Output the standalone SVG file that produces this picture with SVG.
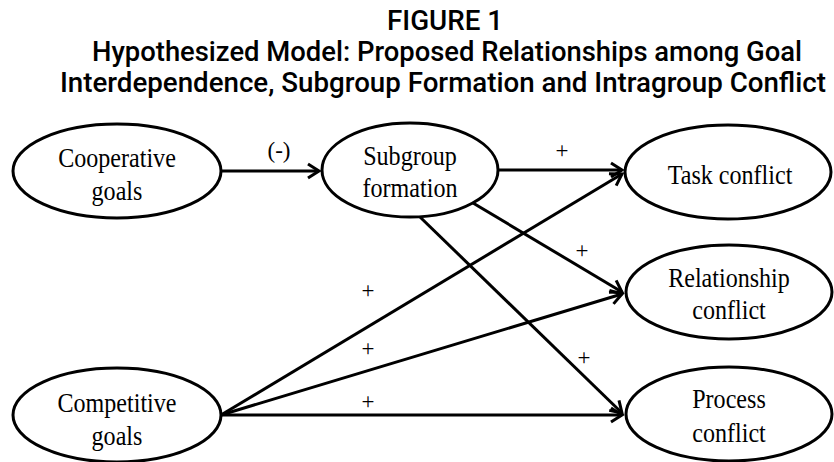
<svg xmlns="http://www.w3.org/2000/svg" width="834" height="462" viewBox="0 0 834 462">
<style>
.title{font-family:Roboto,"Liberation Sans",sans-serif;font-weight:500;font-size:28px;fill:#000;text-anchor:middle}
.node ellipse{fill:#fff;stroke:#000;stroke-width:3}
.node text{font-family:"Liberation Serif","Times New Roman",serif;font-size:28px;fill:#000;text-anchor:middle}
.edge{fill:none;stroke:#000;stroke-width:3;marker-end:url(#arr)}
.lbl{font-family:"Liberation Serif","Times New Roman",serif;font-size:23px;fill:#000;text-anchor:middle}
</style>
<defs>
<marker id="arr" markerUnits="userSpaceOnUse" viewBox="-16 -10 20 20" markerWidth="20" markerHeight="20" refX="0" refY="0" orient="auto" overflow="visible">
<path d="M-11,-7 L0,0 L-11,7" fill="none" stroke="#000" stroke-width="3" stroke-linejoin="miter"/>
</marker>
</defs>
<rect width="834" height="462" fill="#fff"/>
<g id="title">
<text class="title" x="445" y="30" textLength="116" lengthAdjust="spacingAndGlyphs">FIGURE 1</text>
<text class="title" x="447" y="61" textLength="710" lengthAdjust="spacingAndGlyphs">Hypothesized Model: Proposed Relationships among Goal</text>
<text class="title" x="443" y="92" textLength="766" lengthAdjust="spacingAndGlyphs">Interdependence, Subgroup Formation and Intragroup Conflict</text>
</g>
<g id="connectors">
<path class="edge" d="M221,171 H319"/>
<path class="edge" d="M498,170 H622"/>
<path class="edge" d="M473,203 L622,292"/>
<path class="edge" d="M420,217 L622,413"/>
<path class="edge" d="M221,415 L622,174"/>
<path class="edge" d="M221,415 L622,294"/>
<path class="edge" d="M221,415 H622"/>
<text class="lbl" x="279" y="158" font-size="24">(-)</text>
<text class="lbl" x="562" y="158">+</text>
<text class="lbl" x="582" y="258">+</text>
<text class="lbl" x="584" y="365">+</text>
<text class="lbl" x="368" y="298">+</text>
<text class="lbl" x="368" y="356">+</text>
<text class="lbl" x="368" y="409">+</text>
</g>
<g id="cooperative" class="node">
<ellipse cx="117" cy="171" rx="104" ry="47"/>
<text transform="translate(117,167) scale(0.86,1)">Cooperative</text>
<text transform="translate(117,200) scale(0.86,1)">goals</text>
</g>
<g id="subgroup" class="node">
<ellipse cx="410" cy="170" rx="88" ry="47"/>
<text transform="translate(410,165) scale(0.86,1)">Subgroup</text>
<text transform="translate(410,197) scale(0.86,1)">formation</text>
</g>
<g id="task" class="node">
<ellipse cx="728" cy="172" rx="103" ry="47"/>
<text transform="translate(730,184) scale(0.86,1)">Task conflict</text>
</g>
<g id="relationship" class="node">
<ellipse cx="729" cy="292" rx="103" ry="47"/>
<text transform="translate(729,287) scale(0.86,1)">Relationship</text>
<text transform="translate(729,319) scale(0.86,1)">conflict</text>
</g>
<g id="process" class="node">
<ellipse cx="729" cy="414" rx="103" ry="47"/>
<text transform="translate(729,408) scale(0.86,1)">Process</text>
<text transform="translate(729,442) scale(0.86,1)">conflict</text>
</g>
<g id="competitive" class="node">
<ellipse cx="117" cy="415" rx="104" ry="47"/>
<text transform="translate(117,412) scale(0.86,1)">Competitive</text>
<text transform="translate(117,445) scale(0.86,1)">goals</text>
</g>
</svg>
